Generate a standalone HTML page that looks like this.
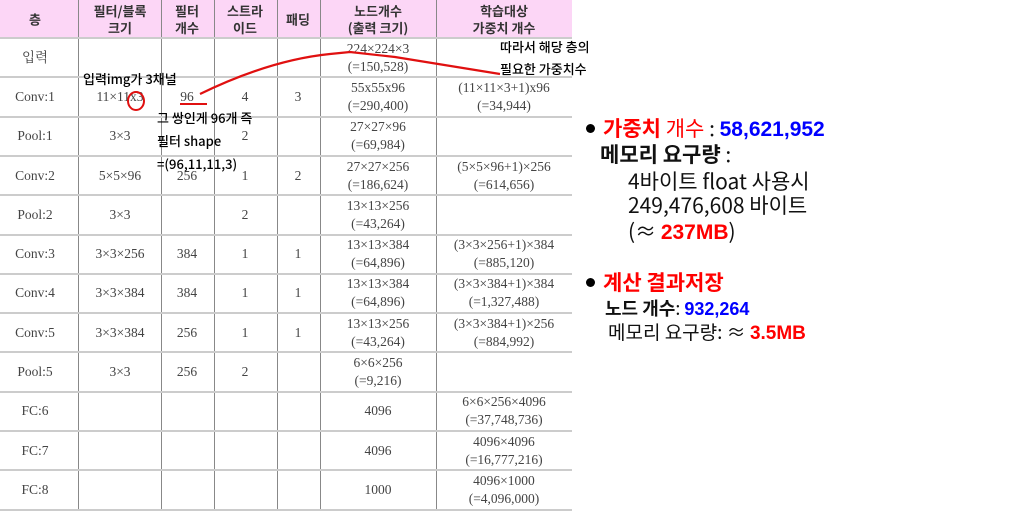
<!DOCTYPE html>
<html><head><meta charset="utf-8"><style>
body{margin:0;width:1014px;height:511px;background:#fff;position:relative;overflow:hidden;font-family:"Liberation Sans","Noto Sans CJK KR",sans-serif}
.t{position:absolute;font-family:"Liberation Serif","Noto Serif CJK SC",serif;font-size:13.5px;color:#444;text-align:center;line-height:18px;transform:translate(-50%,-50%);white-space:nowrap}
.h{position:absolute;font-family:"Noto Sans CJK KR",sans-serif;font-weight:bold;font-size:13px;color:#333;text-align:center;line-height:17px;transform:translate(-50%,-50%);white-space:nowrap}
.hl{position:absolute;left:0;width:572px;height:2px;background:#ccc}
.vl{position:absolute;top:0;width:1px;height:511px;background:#888}
.a{position:absolute;font-family:"Noto Sans CJK KR",sans-serif;font-size:13px;font-weight:500;color:#000;white-space:nowrap;line-height:15px}
.r{position:absolute;font-family:"Noto Sans CJK KR",sans-serif;white-space:nowrap;line-height:24px;font-size:21px;color:#111}
.dot{display:inline-block;width:9px;height:9px;border-radius:50%;background:#000;vertical-align:middle;margin-right:8px;position:relative;top:-2px}
</style></head><body>
<div style="position:absolute;left:0;top:0;width:572px;height:38px;background:#fcd6f6"></div>
<div id="tbl"></div>
<svg width="1014" height="511" style="position:absolute;left:0;top:0">
<path d="M200 94 Q270 60 330 54 L350 52 L395 57 L500 74" fill="none" stroke="#e01010" stroke-width="2.2"/>
<ellipse cx="136" cy="101" rx="8" ry="9" fill="none" stroke="#e01010" stroke-width="2"/>
<line x1="180" y1="104" x2="207" y2="104" stroke="#e01010" stroke-width="2"/>
</svg>
<div class="a" style="left:83px;top:71px">입력img가 3채널</div>
<div class="a" style="left:157px;top:110px">그 쌍인게 96개 즉</div>
<div class="a" style="left:157px;top:133px">필터 shape</div>
<div class="a" style="left:157px;top:156px">=(96,11,11,3)</div>
<div class="a" style="left:500px;top:39px">따라서 해당 층의</div>
<div class="a" style="left:500px;top:61px">필요한 가중치수</div>

<div class="r" style="left:586px;top:116px"><span class="dot"></span><b style="color:#f00">가중치 <span style="font-weight:normal">개수</span></b> : <b style="color:#00f;font-family:'Liberation Sans',sans-serif">58,621,952</b></div>
<div class="r" style="left:600px;top:142px"><b>메모리 요구량</b> :</div>
<div class="r" style="left:628px;top:169px">4바이트 float 사용시</div>
<div class="r" style="left:628px;top:193px">249,476,608 바이트</div>
<div class="r" style="left:628px;top:219px">(≈ <b style="color:#f00;font-family:'Liberation Sans',sans-serif">237MB</b>)</div>
<div class="r" style="left:586px;top:270px"><span class="dot"></span><b style="color:#f00">계산 결과저장</b></div>
<div class="r" style="left:605px;top:296px;font-size:18px"><b>노드 개수</b>: <b style="color:#00f;font-family:'Liberation Sans',sans-serif">932,264</b></div>
<div class="r" style="left:608px;top:320px;font-size:19px">메모리 요구량: ≈ <b style="color:#f00;font-family:'Liberation Sans',sans-serif">3.5MB</b></div>
<script>
const colLines=[78,161,214,277,320,436];
const colCenters=[35,120,187,245,298,378,504];
const headers=["층","필터/블록<br>크기","필터<br>개수","스트라<br>이드","패딩","노드개수<br>(출력 크기)","학습대상<br>가중치 개수"];
const rows=[
["입력","","","","","224×224×3<br>(=150,528)",""],
["Conv:1","11×11x3","96","4","3","55x55x96<br>(=290,400)","(11×11×3+1)x96<br>(=34,944)"],
["Pool:1","3×3","","2","","27×27×96<br>(=69,984)",""],
["Conv:2","5×5×96","256","1","2","27×27×256<br>(=186,624)","(5×5×96+1)×256<br>(=614,656)"],
["Pool:2","3×3","","2","","13×13×256<br>(=43,264)",""],
["Conv:3","3×3×256","384","1","1","13×13×384<br>(=64,896)","(3×3×256+1)×384<br>(=885,120)"],
["Conv:4","3×3×384","384","1","1","13×13×384<br>(=64,896)","(3×3×384+1)×384<br>(=1,327,488)"],
["Conv:5","3×3×384","256","1","1","13×13×256<br>(=43,264)","(3×3×384+1)×256<br>(=884,992)"],
["Pool:5","3×3","256","2","","6×6×256<br>(=9,216)",""],
["FC:6","","","","","4096","6×6×256×4096<br>(=37,748,736)"],
["FC:7","","","","","4096","4096×4096<br>(=16,777,216)"],
["FC:8","","","","","1000","4096×1000<br>(=4,096,000)"]];
const tbl=document.getElementById('tbl');
const headH=38,rowH=39.3;
colLines.forEach(x=>{const d=document.createElement('div');d.className='vl';d.style.left=x+'px';


tbl.appendChild(d);});
for(let i=0;i<=rows.length;i++){const d=document.createElement('div');d.className='hl';d.style.top=(headH+i*rowH-1)+'px';


tbl.appendChild(d);}
headers.forEach((h,j)=>{const d=document.createElement('div');d.className='h';d.innerHTML=h;d.style.left=colCenters[j]+'px';d.style.top=(headH/2)+'px';


tbl.appendChild(d);});
rows.forEach((r,i)=>r.forEach((c,j)=>{if(!c)return;const d=document.createElement('div');d.className='t';d.innerHTML=c;
d.style.left=colCenters[j]+'px';d.style.top=(headH+i*rowH+rowH/2)+'px';


tbl.appendChild(d);}));
</script>
</body></html>
